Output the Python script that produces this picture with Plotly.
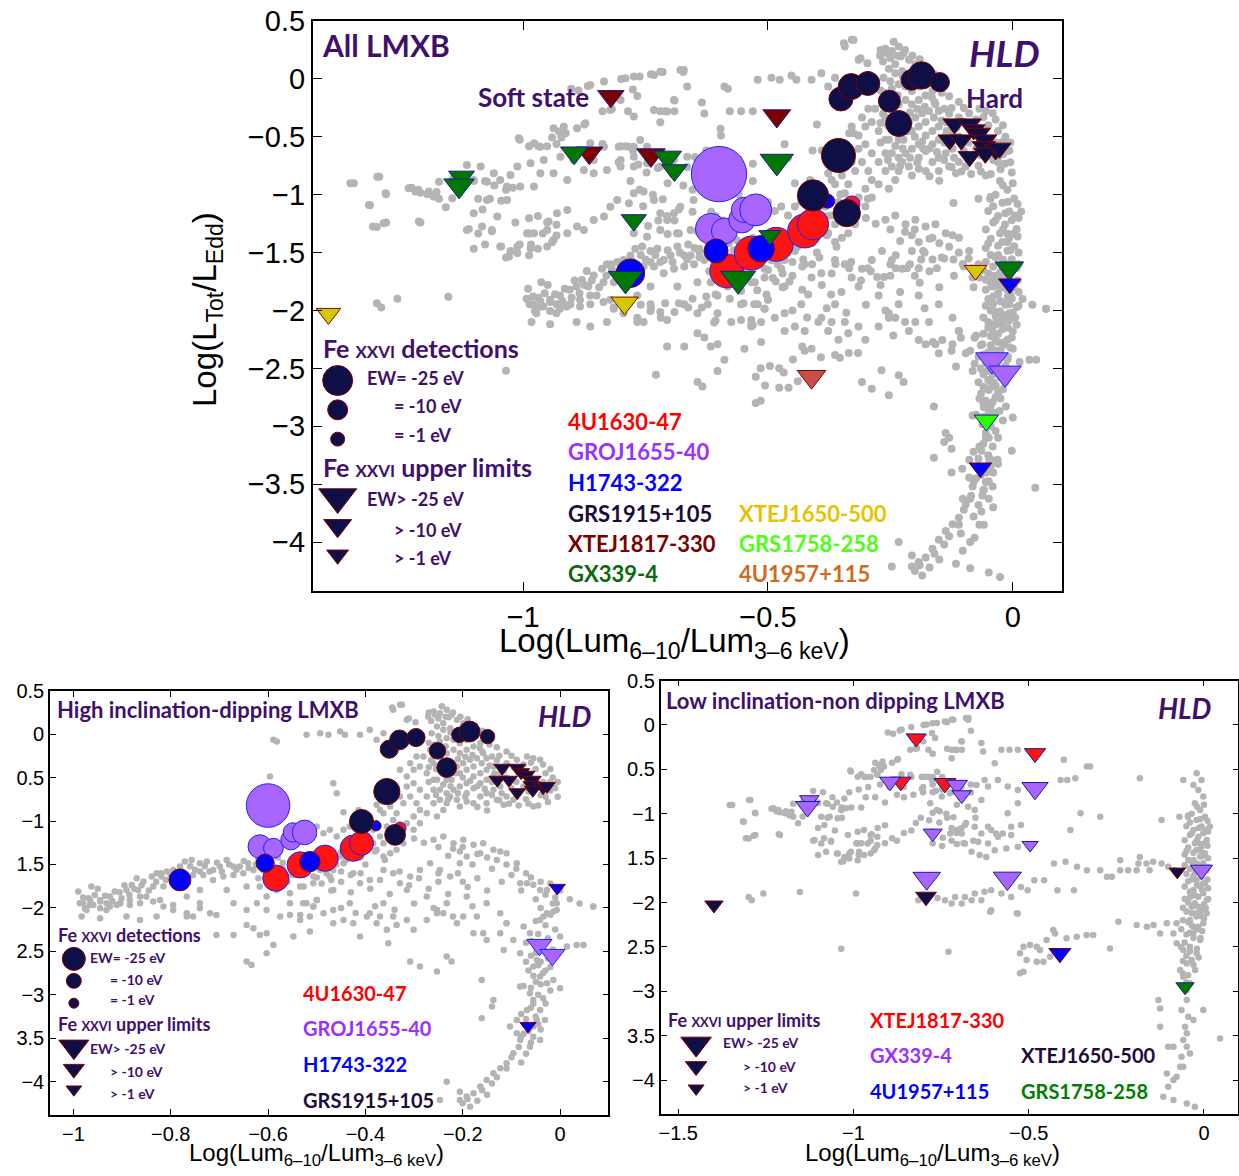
import plotly.graph_objects as go

W, H = 1239, 1176

# ---------------------------------------------------------------------------
# Background sample (grey): high-inclination / dipping sources
# (x = log(Lum 6-10 / Lum 3-6 keV), y = log(L_Tot / L_Edd))
# ---------------------------------------------------------------------------
HI_SOFT = [(-0.990,-1.812),(-0.987,-1.947),(-0.976,-2.004),(-0.969,-1.889),(-0.963,-1.755),(-0.956,-1.851),
    (-0.945,-1.908),(-0.945,-2.004),(-0.932,-2.023),(-0.925,-1.870),(-0.915,-1.812),(-0.911,-1.966),(-0.901,-1.889),
    (-0.891,-1.793),(-0.880,-1.736),(-0.870,-1.659),(-0.867,-1.793),(-0.856,-1.697),(-0.850,-1.870),(-0.839,-1.640),
    (-0.829,-1.601),(-0.819,-1.640),(-0.808,-1.582),(-0.795,-1.563),(-0.781,-1.524),(-0.771,-1.467),(-0.757,-1.448),
    (-0.740,-1.486),(-0.726,-1.467),(-0.713,-1.563),(-0.699,-1.524),(-0.685,-1.448),(-0.671,-1.524),(-0.658,-1.524),
    (-0.641,-1.486),(-0.973,-2.023),(-0.959,-1.966),(-0.932,-1.947),(-0.904,-1.947),(-0.884,-1.908),(-0.863,-1.870),
    (-0.836,-1.755),(-0.815,-1.755),(-0.795,-1.716),(-0.774,-1.678),(-0.754,-1.620),(-0.733,-1.620),(-0.713,-1.678),
    (-0.692,-1.640),(-0.671,-1.620),(-0.651,-1.601),(-0.630,-1.563),(-0.610,-1.563)]

HI_SOFT2 = [(-0.98,-1.88),(-0.965,-1.92),(-0.95,-1.78),(-0.935,-1.86),(-0.92,-1.92),(-0.905,-1.82),(-0.895,-1.74),
    (-0.885,-1.85),(-0.875,-1.78),(-0.86,-1.74),(-0.845,-1.80),(-0.83,-1.70),(-0.82,-1.60),(-0.81,-1.68),(-0.80,-1.62),
    (-0.79,-1.60),(-0.78,-1.56),(-0.77,-1.62),(-0.76,-1.52),(-0.75,-1.56),(-0.74,-1.58),(-0.73,-1.52),(-0.72,-1.58),
    (-0.705,-1.48),(-0.695,-1.58),(-0.68,-1.50),(-0.665,-1.56),(-0.65,-1.46),(-0.64,-1.54),(-0.625,-1.50),(-0.615,-1.44),
    (-0.60,-1.48),(-0.59,-1.54),(-0.58,-1.42),(-0.57,-1.48),(-0.55,-1.44),(-0.54,-1.56),(-0.53,-1.40),(-0.51,-1.45),
    (-0.49,-1.42),(-0.47,-1.38),(-0.45,-1.36),(-0.43,-1.30),(-0.42,-1.36),(-0.46,-1.44),(-0.48,-1.50)]

HI_SOFT_LOW = [(-0.983,-2.100),(-0.945,-2.119),(-0.891,-2.100),(-0.863,-2.138),(-0.829,-2.100),(-0.795,-2.023),
    (-0.767,-2.100),(-0.740,-2.004),(-0.706,-2.081),(-0.671,-1.947),(-0.644,-2.023),(-0.623,-1.947),(-0.603,-2.023),
    (-0.575,-2.100),(-0.534,-2.081),(-0.521,-1.947),(-0.500,-1.908),(-0.617,-1.755),(-0.582,-1.793),(-0.555,-1.831),
    (-0.527,-1.755),(-0.507,-1.716),(-0.685,-1.793),(-0.644,-1.755),(-0.603,-1.870),(-0.555,-1.947),(-0.767,-1.870),
    (-0.740,-1.793),(-0.822,-1.908),(-0.980,-1.946),(-0.966,-1.966),(-0.945,-1.927),(-0.925,-1.985),(-0.904,-1.946),
    (-0.884,-1.966),(-0.863,-1.946),(-0.836,-1.927),(-0.815,-1.985),(-0.795,-1.966),(-0.767,-2.062),(-0.754,-2.100),
    (-0.740,-1.946),(-0.719,-2.062),(-0.706,-2.311),(-0.671,-2.311),(-0.644,-2.196),(-0.630,-2.234),(-0.617,-2.311),
    (-0.603,-2.292),(-0.555,-2.081),(-0.534,-2.138),(-0.507,-1.985),(-0.514,-2.273),(-0.548,-2.330),(-0.603,-2.522),
    (-0.589,-2.426),(-0.644,-2.618),(-0.634,-2.656)]

HI_UNDER = [(-0.62,-1.45),(-0.60,-1.60),(-0.57,-1.55),(-0.55,-1.62),(-0.52,-1.58),(-0.50,-1.52),(-0.48,-1.60),
    (-0.46,-1.50),(-0.45,-1.58),(-0.44,-1.45),(-0.50,-1.65),(-0.56,-1.70),(-0.62,-1.66),(-0.47,-1.68),(-0.43,-1.62),
    (-0.40,-1.50),(-0.41,-1.42),(-0.38,-1.35),(-0.36,-1.45)]

HI_DIAG = [(-0.528,-1.102),(-0.514,-1.179),(-0.500,-1.063),(-0.486,-1.140),(-0.473,-1.102),(-0.521,-1.601),
    (-0.507,-1.639),(-0.493,-1.563),(-0.480,-1.524),(-0.466,-1.563),(-0.452,-1.409),(-0.438,-1.332),(-0.459,-1.179),
    (-0.445,-1.102),(-0.432,-1.063),(-0.418,-0.987),(-0.404,-1.063),(-0.391,-0.948),(-0.377,-1.025),(-0.363,-0.910),
    (-0.349,-0.833),(-0.336,-0.910),(-0.322,-0.795),(-0.308,-0.718),(-0.295,-0.795),(-0.288,-0.641),(-0.301,-0.564),
    (-0.315,-0.603),(-0.329,-0.718),(-0.343,-0.987),(-0.356,-1.063),(-0.370,-1.179),(-0.384,-1.255),(-0.397,-1.332),
    (-0.411,-1.409),(-0.425,-1.409),(-0.329,-0.411),(-0.315,-0.488),(-0.301,-0.411),(-0.288,-0.372),(-0.274,-0.449),
    (-0.281,-0.257),(-0.267,-0.181),(-0.295,-0.257),(-0.308,-0.334),(-0.370,-0.872),(-0.356,-0.718),(-0.343,-0.603),
    (-0.384,-1.102),(-0.397,-1.179),(-0.411,-1.217),(-0.260,-0.334),(-0.260,-0.526),(-0.247,-0.411),(-0.274,-0.718),
    (-0.288,-0.872),(-0.301,-0.948),(-0.315,-1.025),(-0.329,-1.102),(-0.343,-1.179),(-0.363,-1.255),(-0.377,-1.332),
    (-0.247,-0.641),(-0.233,-0.526),(-0.260,-0.795),(-0.274,-0.910),(-0.288,-1.025),(-0.301,-1.102),(-0.322,-1.255),
    (-0.336,-1.332),(-0.349,-1.371),(-0.363,-1.409),(-0.226,-0.718),(-0.240,-0.872),(-0.253,-0.948)]

HI_GRS = [(-0.271,0.203),(-0.260,0.261),(-0.247,0.241),(-0.233,0.280),(-0.223,0.222),(-0.212,0.165),(-0.199,0.126),
    (-0.240,0.126),(-0.253,0.088),(-0.264,0.011),(-0.226,0.069),(-0.212,0.011),(-0.185,0.050),(-0.171,-0.008),
    (-0.192,-0.066),(-0.206,-0.104),(-0.219,-0.066),(-0.233,-0.046),(-0.247,-0.085),(-0.260,-0.123),(-0.219,-0.181),
    (-0.233,-0.219),(-0.247,-0.257),(-0.206,-0.219),(-0.192,-0.181),(-0.178,-0.142),(-0.164,-0.104),(-0.158,-0.219),
    (-0.171,-0.277),(-0.185,-0.296),(-0.199,-0.334),(-0.212,-0.373),(-0.226,-0.411),(-0.240,-0.449),(-0.253,-0.526),
    (-0.223,-0.526),(-0.206,-0.449),(-0.192,-0.411),(-0.178,-0.372),(-0.161,-0.334),(-0.151,-0.277),(-0.140,-0.257),
    (-0.137,-0.372),(-0.151,-0.411),(-0.164,-0.449),(-0.178,-0.488),(-0.192,-0.564),(-0.206,-0.603),(-0.219,-0.641),
    (-0.233,-0.680),(-0.212,-0.756),(-0.192,-0.680),(-0.178,-0.622),(-0.164,-0.564),(-0.151,-0.526),(-0.137,-0.488),
    (-0.123,-0.449),(-0.123,-0.603),(-0.137,-0.641),(-0.151,-0.680),(-0.164,-0.718),(-0.178,-0.795),(-0.151,-0.795),
    (-0.130,-0.756),(-0.110,-0.718),(-0.116,-0.814),(-0.096,-0.756),(-0.089,-0.296),(-0.068,-0.257),(-0.055,-0.277),
    (-0.041,-0.296),(-0.055,-0.833),(-0.110,-0.334),(-0.260,-0.641),(-0.247,-0.756),(-0.233,-0.795),(-0.206,-0.833),
    (-0.192,-0.776),(-0.130,-0.300),(-0.100,-0.250),(-0.075,-0.350),(-0.050,-0.400),(-0.030,-0.450),(-0.015,-0.500),
    (-0.020,-0.650),(-0.040,-0.700),(-0.070,-0.750),(-0.100,-0.620),(-0.110,-0.500),(-0.090,-0.550),(-0.140,-0.550),
    (-0.120,-0.680),(-0.025,-0.780),(-0.005,-0.720),(-0.060,-0.500),(-0.080,-0.450),(-0.035,-0.550)]

HI_GRS2 = [(-0.265,0.15),(-0.25,0.18),(-0.235,0.20),(-0.22,0.25),(-0.205,0.20),(-0.19,0.17),(-0.24,0.05),
    (-0.225,0.02),(-0.20,0.08),(-0.185,-0.02),(-0.175,0.10),(-0.16,0.04),(-0.15,-0.05),(-0.165,-0.16),(-0.18,-0.24),
    (-0.195,-0.26),(-0.21,-0.29),(-0.225,-0.32),(-0.24,-0.36),(-0.255,-0.40),(-0.27,-0.38),(-0.265,-0.30),
    (-0.255,-0.20),(-0.27,-0.10),(-0.25,-0.02),(-0.235,-0.14),(-0.215,-0.45),(-0.20,-0.50),(-0.185,-0.54),
    (-0.17,-0.60),(-0.155,-0.63),(-0.14,-0.70),(-0.125,-0.76),(-0.105,-0.80),(-0.085,-0.82),(-0.065,-0.80),
    (-0.045,-0.82),(-0.03,-0.72),(-0.01,-0.62),(-0.005,-0.55),(-0.02,-0.40),(-0.035,-0.35),(-0.06,-0.33),
    (-0.095,-0.38),(-0.115,-0.42),(-0.135,-0.45),(-0.145,-0.36),(-0.125,-0.25),(-0.11,-0.20),(-0.13,-0.15),
    (-0.145,-0.12),(-0.16,-0.20),(-0.075,-0.60),(-0.09,-0.70),(-0.105,-0.56),(-0.05,-0.60),(-0.065,-0.66),
    (-0.02,-0.55),(-0.24,-0.58),(-0.225,-0.60),(-0.21,-0.68),(-0.195,-0.72),(-0.17,-0.84),(-0.15,-0.88),
    (-0.23,-0.75),(-0.255,-0.70),(-0.27,-0.55)]

HI_UPPER = [(-0.521,-0.008),(-0.493,0.011),(-0.476,-0.008),(-0.452,0.030),(-0.442,-0.008),(-0.411,-0.008),
    (-0.391,0.050),(-0.343,0.280),(-0.329,0.338),(-0.315,0.165),(-0.377,-0.065),(-0.363,0.011),(-0.466,-0.564),
    (-0.459,-0.680),(-0.397,-0.987),(-0.377,-0.814),(-0.414,-0.872),(-0.445,-0.900),(-0.589,-0.066),(-0.582,-0.085),
    (-0.596,-0.488),(-0.345,0.308),(-0.325,0.337),(-0.243,0.322),(-0.270,0.250),(-0.257,0.222),(-0.229,0.193),
    (-0.311,0.179),(-0.297,0.136)]

HI_RIGHT = [(-0.260,-1.217),(-0.240,-1.179),(-0.219,-1.255),(-0.199,-1.217),(-0.178,-1.274),(-0.158,-1.255),
    (-0.137,-1.332),(-0.123,-1.351),(-0.110,-1.371),(-0.089,-1.486),(-0.082,-1.716),(-0.068,-1.716),(-0.055,-1.735),
    (-0.041,-1.793),(-0.027,-1.793),(-0.007,-1.946),(0.068,-1.985),(-0.192,-1.409),(-0.164,-1.371),(-0.206,-1.351),
    (-0.300,-1.200),(-0.280,-1.250),(-0.250,-1.300),(-0.220,-1.320),(-0.200,-1.300),(-0.170,-1.380),(-0.150,-1.420),
    (-0.130,-1.450),(-0.110,-1.500),(-0.090,-1.550),(-0.070,-1.600),(-0.060,-1.650),(-0.040,-1.700),(-0.020,-1.720),
    (0.000,-1.800),(-0.010,-1.880),(0.020,-1.900),(0.040,-1.950),(-0.230,-1.400),(-0.180,-1.500),(-0.140,-1.550),
    (-0.100,-1.620),(-0.120,-1.700),(-0.080,-1.800),(-0.050,-1.900),(-0.150,-1.800),(-0.200,-1.700),(-0.250,-1.600)]

HI_MID = [(-0.473,-1.639),(-0.445,-1.486),(-0.425,-1.601),(-0.411,-1.716),(-0.391,-1.678),(-0.363,-1.563),
    (-0.343,-1.601),(-0.329,-1.716),(-0.308,-1.639),(-0.288,-1.563),(-0.267,-1.486),(-0.247,-1.563),(-0.226,-1.639),
    (-0.206,-1.486),(-0.315,-1.793),(-0.274,-1.870),(-0.253,-2.023),(-0.233,-1.946),(-0.192,-1.870),(-0.171,-2.100),
    (-0.151,-1.946),(-0.123,-2.062),(-0.110,-2.176),(-0.014,-2.042),(-0.034,-2.100),(-0.534,-1.755),(-0.500,-1.908),
    (-0.466,-1.793),(-0.432,-1.946),(-0.397,-2.100),(-0.363,-1.946),(-0.343,-2.100),(-0.466,-2.176),(-0.514,-2.100),
    (-0.377,-2.176),(-0.274,-2.138),(-0.212,-2.176),(-0.528,-1.946),(-0.507,-1.985),(-0.486,-2.062),(-0.466,-2.023),
    (-0.445,-2.138),(-0.425,-2.177),(-0.411,-2.330),(-0.391,-2.062),(-0.370,-2.100),(-0.356,-2.253),(-0.353,-2.407),
    (-0.336,-2.196),(-0.315,-2.138),(-0.301,-2.253),(-0.308,-2.618),(-0.288,-2.676),(-0.253,-2.062),(-0.240,-2.062),
    (-0.253,-2.733),(-0.233,-2.560),(-0.223,-2.618),(-0.199,-2.100),(-0.178,-2.292),(-0.161,-2.829),(-0.158,-2.292),
    (-0.151,-2.369),(-0.123,-2.292),(-0.116,-2.484),(-0.110,-2.177),(-0.096,-2.369),(-0.082,-2.906),(-0.075,-2.215),
    (-0.062,-2.292),(-0.048,-2.599),(-0.041,-2.138),(-0.027,-2.062),(-0.007,-2.023),(0.000,-2.330),(0.014,-2.445),
    (0.034,-2.426),(0.048,-2.426),(0.068,-1.985),(-0.161,-3.271)]

HI_MID2 = [(-0.49,-1.72),(-0.47,-1.80),(-0.45,-1.70),(-0.43,-1.82),(-0.41,-1.60),(-0.39,-1.78),(-0.37,-1.68),
    (-0.35,-1.84),(-0.33,-1.58),(-0.31,-1.74),(-0.29,-1.66),(-0.27,-1.78),(-0.25,-1.70),(-0.23,-1.84),(-0.21,-1.60),
    (-0.19,-1.76),(-0.17,-1.66),(-0.45,-2.00),(-0.42,-2.06),(-0.38,-1.98),(-0.34,-2.02),(-0.30,-1.95),(-0.26,-2.00),
    (-0.22,-2.10),(-0.18,-1.98)]

HI_HARD = [(-0.137,-3.059),(-0.140,-3.136),(-0.082,-2.522),(-0.055,-2.676),(-0.041,-2.791),(-0.027,-2.867),
    (-0.014,-2.829),(0.000,-2.925),(-0.062,-2.983),(-0.055,-3.059),(-0.068,-3.175),(-0.041,-3.175),(-0.048,-3.290),
    (-0.089,-3.290),(-0.103,-3.366),(-0.055,-3.482),(-0.041,-3.520),(-0.082,-3.520),(-0.096,-3.673),(-0.110,-3.789),
    (-0.123,-3.846),(-0.137,-3.904),(-0.151,-3.981),(-0.164,-4.057),(-0.178,-4.134),(-0.192,-4.172),(-0.206,-4.211),
    (-0.185,-4.288),(-0.233,-4.000),(-0.247,-4.211),(-0.206,-4.115),(-0.055,-3.366),(-0.089,-3.443),(-0.062,-3.597),
    (-0.031,-3.290),(-0.070,-2.400),(-0.050,-2.450),(-0.030,-2.500),(-0.060,-2.550),(-0.040,-2.620),(-0.020,-2.680),
    (-0.065,-2.720),(-0.035,-2.750),(-0.050,-2.850),(-0.075,-2.900),(-0.020,-2.950),(-0.045,-3.000),(-0.030,-3.100),
    (-0.060,-3.150),(-0.080,-3.220),(-0.050,-3.250),(-0.070,-3.350),(-0.040,-3.400),(-0.075,-3.450),(-0.060,-3.550),
    (-0.085,-3.600),(-0.070,-3.680),(-0.100,-3.720),(-0.080,-3.780),(-0.110,-3.850),(-0.130,-3.950),(-0.140,-4.020),
    (-0.160,-4.100),(-0.190,-4.200),(-0.170,-4.220),(-0.200,-4.250),(-0.150,-4.150)]

HI_HARD2 = [(-0.03,-1.85),(-0.015,-1.95),(-0.04,-2.00),(-0.02,-2.08),(-0.05,-2.15),(-0.03,-2.20),(-0.01,-2.25),
    (-0.045,-2.30),(-0.025,-2.35),(-0.06,-2.38),(-0.035,-2.42),(-0.015,-2.48),(-0.05,-2.52),(-0.025,-2.58),
    (-0.07,-2.62),(-0.045,-2.66),(-0.03,-2.72),(-0.055,-2.78),(-0.04,-2.88),(-0.06,-2.92),(-0.035,-3.04),
    (-0.055,-3.10),(-0.07,-3.28),(-0.045,-3.34),(-0.065,-3.42),(-0.08,-3.48)]

# ---------------------------------------------------------------------------
# Background sample (grey): low-inclination / non-dipping sources
# ---------------------------------------------------------------------------
LO_SOFT_A = [(-1.353,-0.901),(-1.315,-1.088),(-1.307,-1.275),(-1.285,-1.247),(-1.298,-0.844),(-1.281,-0.988),
    (-1.234,-0.944),(-1.220,-0.973),(-1.210,-0.982),(-1.193,-0.973),(-1.183,-1.016),(-1.172,-0.887),(-1.145,-1.031),
    (-1.115,-0.743),(-1.087,-0.757),(-1.101,-0.872),(-1.074,-0.887),(-1.047,-0.872),(-1.026,-0.829),(-1.009,-0.513),
    (-0.978,-0.556),(-0.965,-0.585),(-0.938,-0.426),(-0.927,-0.455),(-0.917,-0.412),(-0.890,-0.426),(-0.873,-0.383),
    (-0.863,-0.556),(-0.835,-0.585),(-0.805,-0.585),(-0.784,-0.585),(-1.213,-1.232),(-1.115,-1.304),(-1.101,-1.160),
    (-1.084,-1.275),(-1.064,-1.304),(-1.047,-1.448),(-1.029,-1.534),(-1.012,-1.448),(-0.985,-1.462),(-0.978,-1.333),
    (-0.951,-1.304),(-0.948,-1.232),(-0.938,-1.391),(-0.931,-1.160),(-0.910,-1.131),(-0.890,-1.275),(-0.876,-1.304),
    (-0.856,-1.218),(-0.835,-1.189),(-0.822,-1.103),(-0.808,-1.045),(-0.784,-1.074),(-0.774,-0.988),(-0.754,-0.973),
    (-0.733,-1.045),(-0.720,-1.160),(-0.706,-1.218),(-0.692,-1.160),(-0.679,-1.103),(-0.652,-1.045),(-0.774,-1.333),
    (-0.747,-1.362),(-0.720,-1.304),(-0.686,-1.333),(-0.658,-1.304),(-0.910,-1.333),(-0.951,-1.448),(-0.992,-1.333),
    (-1.053,-1.189),(-1.074,-1.045),(-1.033,-1.045),(-1.006,-0.930),(-0.978,-0.930),(-0.965,-0.815),(-0.938,-0.815),
    (-0.910,-0.872),(-0.876,-0.786),(-0.856,-0.815),(-0.829,-0.786),(-0.801,-0.757),(-0.774,-0.757),(-0.747,-0.728),
    (-0.720,-0.757),(-0.692,-0.700),(-0.665,-0.671),(-0.774,-0.671),(-0.801,-0.700),(-0.856,-0.700),(-0.897,-0.700),
    (-0.924,-0.671),(-0.958,-0.700),(-0.985,-0.728),(-1.012,-0.757),(-1.033,-0.930),(-1.060,-0.815),(-0.822,-0.268),
    (-0.801,-0.182),(-0.774,-0.325),(-0.733,-0.268),(-0.706,-0.282),(-0.692,-0.182),(-0.665,-0.066),(-0.791,0.006),
    (-0.774,0.020),(-0.733,0.034),(-0.720,0.063),(-0.679,0.078),(-0.672,0.078),(-0.835,-0.023),(-0.863,-0.052),
    (-0.774,-0.585),(-0.761,-0.527),(-0.747,-0.585)]

LO_SOFT_B = [(-1.346,-0.901),(-1.294,-0.845),(-1.313,-1.090),(-1.280,-0.995),(-1.299,-1.278),(-1.280,-1.240),
    (-1.228,-0.939),(-1.214,-0.958),(-1.196,-0.995),(-1.177,-0.977),(-1.210,-1.240),(-1.172,-1.034),(-1.144,-0.864),
    (-1.158,-1.108),(-1.101,-0.882),(-1.078,-0.882),(-1.059,-0.920),(-1.035,-0.958),(-1.021,-0.939),(-1.092,-1.034),
    (-1.068,-1.034),(-1.045,-1.052),(-1.083,-1.127),(-1.111,-1.297),(-1.092,-1.334),(-1.064,-1.316),(-1.078,-1.429),
    (-1.101,-1.466),(-1.045,-1.447),(-1.026,-1.486),(-1.007,-1.429),(-0.984,-1.429),(-1.035,-1.542),(-1.012,-1.504),
    (-0.988,-1.523),(-0.970,-1.466),(-0.941,-1.410),(-0.932,-1.353),(-0.960,-1.334),(-0.988,-1.334),(-1.016,-1.240),
    (-0.988,-1.203),(-0.951,-1.240),(-0.932,-1.260),(-0.970,-1.184),(-1.007,-0.525),(-0.988,-0.582),(-0.969,-0.582),
    (-0.951,-0.582),(-0.932,-0.562),(-0.941,-0.506),(-0.922,-0.506),(-0.913,-0.469),(-0.838,-0.562),(-0.800,-0.582),
    (-0.875,-0.393),(-0.838,-0.280),(-0.819,-0.260),(-0.902,-0.084),(-0.887,-0.099),(-0.868,-0.062),(-0.800,0.000)]

LO_SOFT_C = [(-0.790,-0.582),(-0.776,-0.619),(-0.781,-0.882),(-0.762,-0.958),(-0.748,-0.807),(-0.673,-0.920),
    (-0.654,-0.958),(-0.635,-0.845),(-0.649,-0.675),(-0.626,-0.619),(-0.616,-0.694),(-0.588,-0.619),(-0.560,-0.694),
    (-0.531,-0.732),(-0.597,-0.430),(-0.578,-0.280),(-0.555,-0.280),(-0.531,-0.280),(-0.635,-0.204),(-0.630,-0.299),
    (-0.691,-0.186),(-0.720,-0.280),(-0.710,-0.280),(-0.691,-0.280),(-0.720,-0.374),(-0.776,-0.091),(-0.767,-0.148),
    (-0.786,-0.280),(-0.762,0.022),(-0.739,0.040),(-0.715,0.060),(-0.673,0.060),(-0.531,-0.882),(-0.560,-0.995),
    (-0.550,-1.147),(-0.522,-1.127),(-0.574,-1.222),(-0.550,-1.240),(-0.593,-1.222),(-0.607,-1.184),(-0.588,-1.260),
    (-0.531,-1.373),(-0.564,-1.391),(-0.597,-1.410),(-0.616,-1.334),(-0.682,-1.127),(-0.654,-1.147),(-0.635,-1.222),
    (-0.616,-1.147),(-0.644,-1.316),(-0.682,-1.334),(-0.663,-1.429),(-0.640,-1.466),(-0.621,-1.486),(-0.706,-1.184),
    (-0.724,-1.222),(-0.691,-1.222),(-0.745,-0.700),(-0.725,-0.770),(-0.705,-0.900),(-0.735,-1.000),(-0.755,-1.100),
    (-0.715,-1.040),(-0.695,-0.820),(-0.665,-0.760),(-0.775,-1.200),(-0.745,-1.270),(-0.705,-1.340),(-0.765,-0.740),
    (-0.805,-0.720),(-0.409,-0.619),(-0.390,-0.619),(-0.367,-0.600),(-0.400,-0.393),(-0.334,-0.469),(-0.325,-0.469),
    (-0.183,-0.600),(-0.296,-1.034),(-0.352,-0.995),(-0.381,-1.184),(-0.121,-1.071),(-0.070,-1.034),(-0.046,-1.034)]

LO_LOWER = [(-0.710,-1.937),(-0.682,-1.937),(-0.654,-1.899),(-0.626,-1.880),(-0.607,-1.862),(-0.578,-1.899),
    (-0.550,-1.937),(-0.522,-1.824),(-0.503,-1.862),(-0.739,-1.975),(-0.720,-2.012),(-0.691,-2.012),(-0.663,-1.975),
    (-0.635,-1.975),(-0.607,-2.088),(-0.531,-2.125),(-0.760,-1.950),(-0.815,-1.975),(-0.484,-1.749),(-0.456,-1.749),
    (-0.418,-1.862),(-0.371,-1.862),(-0.428,-1.560),(-0.395,-1.542),(-0.362,-1.598),(-0.334,-1.636),(-0.296,-1.636),
    (-0.263,-1.711),(-0.239,-1.636),(-0.216,-1.636),(-0.187,-1.560),(-0.164,-1.560),(-0.145,-1.542),(-0.121,-1.560),
    (-0.102,-1.598),(-0.084,-1.636),(-0.192,-1.636),(-0.155,-1.636),(-0.183,-1.486),(-0.239,-1.523),(-0.277,-1.711),
    (-1.299,-1.937),(-1.290,-1.975),(-1.257,-1.899),(-1.153,-1.881),(-0.993,-1.899),(-1.035,-2.520),
    (-0.244,-2.216),(-0.192,-2.254),(-0.163,-2.272),(-0.144,-2.254),(-0.106,-2.235),(-0.078,-2.235),(-0.087,-2.348),
    (-0.078,-2.460),(-0.059,-2.535),(-0.125,-2.348),(-0.515,-2.498),(-0.496,-2.479),(-0.477,-2.498),(-0.449,-2.423),
    (-0.430,-2.310),(-0.425,-2.348),(-0.392,-2.404),(-0.363,-2.385),(-0.335,-2.366),(-0.316,-2.366),(-0.525,-2.573),
    (-0.506,-2.648),(-0.477,-2.667),(-0.458,-2.667),(-0.439,-2.610),(-0.468,-2.535),(-0.515,-2.780),(-0.525,-2.798),
    (-0.268,-2.517),(-0.729,-2.554),(-0.610,-2.103),(-0.534,-2.122)]

LO_HARD = [(-0.035,-2.047),(-0.021,-2.122),(-0.040,-2.197),(-0.016,-2.272),(-0.030,-2.348),(-0.011,-2.423),
    (-0.040,-2.498),(-0.021,-2.573),(-0.035,-2.648),(-0.049,-2.686),(-0.068,-2.761),(-0.059,-2.836),(-0.040,-2.911),
    (-0.049,-2.986),(-0.049,-3.099),(-0.064,-3.211),(-0.045,-3.287),(-0.030,-3.324),(-0.054,-3.399),(-0.049,-3.474),
    (-0.059,-3.549),(-0.049,-3.625),(-0.040,-3.700),(-0.064,-3.737),(-0.059,-3.850),(-0.068,-3.850),(-0.078,-3.963),
    (-0.106,-3.925),(-0.087,-4.000),(-0.102,-4.075),(-0.116,-4.188),(-0.087,-4.226),(-0.049,-4.263),(-0.026,-4.301),
    (-0.130,-3.099),(-0.125,-3.193),(-0.125,-3.399),(-0.102,-3.625),(-0.087,-3.625),(-0.002,-3.211),(0.046,-3.531),
    (-0.021,-0.544),(-0.007,-0.619),(-0.030,-0.676),(-0.016,-0.732),(-0.002,-0.807),(-0.026,-0.882),(-0.011,-0.957),
    (0.003,-1.033),(-0.021,-1.070),(-0.007,-1.145),(-0.030,-1.183),(-0.002,-1.220),(-0.016,-1.258),(0.008,-1.296),
    (-0.026,-1.333),(-0.007,-1.371),(-0.021,-1.408),(0.003,-1.446),(-0.011,-1.483),(-0.030,-1.521),(-0.002,-1.558),
    (-0.016,-1.596),(0.008,-1.634),(-0.026,-1.671),(-0.007,-1.709),(-0.021,-1.746),(0.003,-1.784),(-0.011,-1.821),
    (-0.030,-1.859),(-0.002,-1.896),(-0.016,-1.934),(0.008,-1.972),(-0.026,-2.009),(-0.007,-2.084),(-0.021,-2.159),
    (-0.002,-2.234),(-0.030,-2.272),(0.017,-1.145),(-0.059,-0.619),(0.003,-1.333),(-0.011,-1.408),(-0.021,-1.634),
    (-0.002,-1.784),(-0.016,-2.047),(0.008,-2.122)]

LO_HARD2 = [(0.000,-0.90),(-0.020,-0.92),(-0.035,-1.00),(0.010,-1.08),(-0.040,-1.10),(-0.015,-1.16),(0.012,-1.20),
    (-0.040,-1.24),(-0.020,-1.30),(0.010,-1.36),(-0.045,-1.38),(-0.030,-1.44),(0.012,-1.50),(-0.045,-1.52),
    (-0.020,-1.56),(0.012,-1.60),(-0.040,-1.62),(-0.030,-1.70),(0.010,-1.74),(-0.045,-1.76),(-0.020,-1.80),
    (0.012,-1.84),(-0.040,-1.88),(-0.025,-1.92),(0.012,-1.96),(-0.045,-2.00),(-0.030,-2.04),(0.005,-2.06),
    (-0.050,-2.10),(-0.010,-2.15),(-0.045,-2.22),(-0.020,-2.30),(-0.050,-2.36),(-0.030,-2.40),(-0.055,-2.45),
    (-0.020,-2.52),(-0.050,-2.60),(-0.030,-2.70),(-0.060,-2.80),(-0.050,-2.90)]

LO_HARD3 = [(-0.045,-1.02),(-0.010,-1.06),(-0.050,-1.14),(0.005,-1.18),(-0.035,-1.22),(-0.055,-1.30),(-0.010,-1.34),
    (-0.050,-1.42),(-0.005,-1.48),(-0.055,-1.46),(-0.035,-1.54),(-0.055,-1.58),(-0.010,-1.66),(-0.050,-1.68),
    (-0.035,-1.74),(-0.055,-1.82),(-0.005,-1.86),(-0.040,-1.94),(-0.055,-1.96),(0.000,-2.02),(-0.060,-2.06),
    (-0.035,-2.12),(0.000,-2.18),(-0.060,-2.20),(-0.035,-2.26),(-0.005,-2.32),(-0.065,-2.30),(-0.040,-2.34),
    (-0.010,-2.40),(-0.065,-2.50),(-0.040,-2.55),(-0.015,-2.62),(-0.060,-2.66),(-0.025,-2.76),(-0.045,-2.82)]

HI_GREY = (HI_SOFT + HI_SOFT2 + HI_SOFT_LOW + HI_UNDER + HI_DIAG + HI_GRS + HI_GRS2 + HI_UPPER + HI_RIGHT
           + HI_MID + HI_MID2 + HI_HARD + HI_HARD2)
LO_GREY = LO_SOFT_A + LO_SOFT_B + LO_SOFT_C + LO_LOWER + LO_HARD + LO_HARD2 + LO_HARD3

# ---------------------------------------------------------------------------
# Fe XXVI detections: (x, y, |EW| in eV)
# ---------------------------------------------------------------------------
GROJ1655_DET = [(-0.600,-0.822,63),(-0.617,-1.294,26),(-0.589,-1.313,19),(-0.553,-1.215,20),
                (-0.549,-1.131,18),(-0.525,-1.131,28)]
U4U1630_DET = [(-0.584,-1.658,31),(-0.534,-1.505,31),(-0.483,-1.428,31),(-0.425,-1.313,31),
               (-0.408,-1.255,27),(-0.329,-1.082,5)]
H1743_DET = [(-0.606,-1.485,16),(-0.514,-1.467,20),(-0.781,-1.678,23),(-0.378,-1.056,1)]
GRS1915_DET = [(-0.408,-1.006,27),(-0.339,-1.159,21),(-0.356,-0.661,31),(-0.351,-0.173,16),(-0.330,-0.066,19),
               (-0.296,-0.039,16),(-0.252,-0.192,13),(-0.233,-0.385,19),(-0.207,-0.008,11),(-0.186,0.030,21),
               (-0.149,-0.028,9)]

# Fe XXVI upper limits: (x, y, |EW| limit in eV)
GRS1915_UL = [(-0.119,-0.389,3),(-0.088,-0.389,3),(-0.080,-0.440,3),(-0.129,-0.527,3),(-0.105,-0.527,3),
              (-0.069,-0.469,3),(-0.056,-0.527,3),(-0.059,-0.585,3),(-0.035,-0.613,3),(-0.088,-0.671,3),
              (-0.056,-0.642,3),(-0.027,-0.598,3)]
H1743_UL = [(-0.006,-1.770,2),(-0.066,-3.359,2)]
GROJ1655_UL = [(-0.0425,-2.426,17),(-0.0158,-2.541,17)]
XTEJ1817_UL = [(-0.821,-0.150,8),(-0.865,-0.639,9),(-0.482,-0.319,10),(-0.739,-0.657,11)]
GX339_UL = [(-1.126,-0.845,7),(-1.131,-0.921,14),(-0.896,-0.639,9),(-0.774,-1.220,6),(-0.791,-1.727,20),
            (-0.705,-0.676,10),(-0.691,-0.789,7),(-0.482,-0.713,18),(-0.496,-1.352,1.5),(-0.561,-1.727,21),
            (-0.007,-1.634,11)]
XTEJ1650_UL = [(-0.793,-1.935,9),(-1.398,-2.028,5),(-0.076,-1.653,2)]
GRS1758_UL = [(-0.054,-2.949,5)]
U4U1957_UL = [(-0.411,-2.572,11)]

LEGEND_EW = [25, 10, 1]

TICKS_Y = [0.5, 0, -0.5, -1, -1.5, -2, -2.5, -3, -3.5, -4]
TICKTEXT_Y_SMALL = ['0.5', '0', '0.5', '\u22121', '1.5', '\u22122', '2.5', '\u22123', '3.5', '\u22124']

# ---------------------------------------------------------------------------
# styling
# ---------------------------------------------------------------------------
GREY = '#b4b4b4'
NAVY = '#0f0f47'
DKRED = '#7d0000'
RED = '#ff1414'
VIOLET = '#a866ff'
BLUE = '#0000ff'
EDGE_B = '#2020ff'
EDGE_N = '#1a1a96'
GREEN = '#007800'
TXT = '#40106e'
AX_FONT = 'Liberation Sans, Arial, sans-serif'
LB_FONT = 'Lato, Open Sans, sans-serif'


def top_circle(ew):
    return 13.3 + 0.667 * ew


def top_tri(ew):
    return 18.4 + 0.583 * ew


def bl_circle(ew):
    return 9.5 + 0.54 * ew


def bl_tri(ew):
    return 13.1 + 0.517 * ew


def br_tri(ew):
    return 13.3 + 0.53 * ew


fig = go.Figure()


def grey(pts, xa, ya, size):
    fig.add_trace(go.Scatter(x=[p[0] for p in pts], y=[p[1] for p in pts], mode='markers',
                             marker=dict(size=size, color=GREY, line=dict(width=0)),
                             xaxis=xa, yaxis=ya, hoverinfo='skip', showlegend=False))


def marks(rows, xa, ya, symbol, fill, edge, size_fn):
    fig.add_trace(go.Scatter(x=[r[0] for r in rows], y=[r[1] for r in rows], mode='markers',
                             marker=dict(symbol=symbol, size=[size_fn(r[2]) for r in rows], color=fill,
                                         line=dict(color=edge, width=1), opacity=1),
                             xaxis=xa, yaxis=ya, hoverinfo='skip', showlegend=False))


# ---- top panel: all LMXB
grey(HI_GREY + LO_GREY, 'x', 'y', 8)
marks(GROJ1655_DET, 'x', 'y', 'circle', VIOLET, EDGE_B, top_circle)
marks(U4U1630_DET, 'x', 'y', 'circle', RED, EDGE_B, top_circle)
marks(H1743_DET, 'x', 'y', 'circle', BLUE, DKRED, top_circle)
marks(GRS1915_DET, 'x', 'y', 'circle', NAVY, DKRED, top_circle)
marks(XTEJ1650_UL, 'x', 'y', 'triangle-down', '#d0ca00', '#8b0000', top_tri)
marks(XTEJ1817_UL, 'x', 'y', 'triangle-down', DKRED, EDGE_N, top_tri)
marks(U4U1957_UL, 'x', 'y', 'triangle-down', '#c84e4a', '#8b0000', top_tri)
marks(GRS1758_UL, 'x', 'y', 'triangle-down', '#2cff00', EDGE_N, top_tri)
marks(GX339_UL, 'x', 'y', 'triangle-down', GREEN, EDGE_N, top_tri)
marks(GROJ1655_UL, 'x', 'y', 'triangle-down', VIOLET, EDGE_B, top_tri)
marks(H1743_UL, 'x', 'y', 'triangle-down', BLUE, DKRED, top_tri)
marks(GRS1915_UL, 'x', 'y', 'triangle-down', NAVY, DKRED, top_tri)

# ---- bottom-left: high inclination, dipping
grey(HI_GREY, 'x2', 'y2', 6.5)
marks(GROJ1655_DET, 'x2', 'y2', 'circle', VIOLET, EDGE_B, bl_circle)
marks(U4U1630_DET, 'x2', 'y2', 'circle', RED, EDGE_B, bl_circle)
marks(H1743_DET, 'x2', 'y2', 'circle', BLUE, DKRED, bl_circle)
marks(GRS1915_DET, 'x2', 'y2', 'circle', NAVY, DKRED, bl_circle)
marks(GROJ1655_UL, 'x2', 'y2', 'triangle-down', VIOLET, EDGE_B, bl_tri)
marks(H1743_UL, 'x2', 'y2', 'triangle-down', BLUE, DKRED, bl_tri)
marks(GRS1915_UL, 'x2', 'y2', 'triangle-down', NAVY, DKRED, bl_tri)

# ---- bottom-right: low inclination, non dipping
grey(LO_GREY, 'x3', 'y3', 6.5)
marks(XTEJ1817_UL, 'x3', 'y3', 'triangle-down', RED, EDGE_N, br_tri)
marks(GX339_UL, 'x3', 'y3', 'triangle-down', VIOLET, EDGE_N, br_tri)
marks(U4U1957_UL, 'x3', 'y3', 'triangle-down', BLUE, DKRED, br_tri)
marks(XTEJ1650_UL, 'x3', 'y3', 'triangle-down', NAVY, DKRED, br_tri)
marks(GRS1758_UL, 'x3', 'y3', 'triangle-down', GREEN, EDGE_N, br_tri)

# ---- in-panel size keys (EW = -25, -10, -1 eV)
KEYS = [
    ('x', 'y', -1.379, [-2.605, -2.858, -3.111], [-3.611, -3.858, -4.110], top_circle, top_tri),
    ('x2', 'y2', -0.999, [-2.587, -2.840, -3.097], [-3.597, -3.854, -4.089], bl_circle, bl_tri),
    ('x3', 'y3', -1.449, None, [-3.592, -3.845, -4.095], None, br_tri),
]
for xa, ya, kx, cy, ty, cfn, tfn in KEYS:
    if cy is not None:
        marks([(kx, yy, ew) for yy, ew in zip(cy, LEGEND_EW)], xa, ya, 'circle', NAVY, DKRED, cfn)
    marks([(kx, yy, ew) for yy, ew in zip(ty, LEGEND_EW)], xa, ya, 'triangle-down', NAVY, DKRED, tfn)


# ---------------------------------------------------------------------------
# axes
# ---------------------------------------------------------------------------
def axis(domain, rng, tickvals, size, ticklen, anchor, ticktext=None):
    d = dict(domain=domain, range=rng, anchor=anchor, tickmode='array', tickvals=tickvals,
             showline=True, linecolor='black', linewidth=1.6, mirror='ticks', ticks='inside',
             ticklen=ticklen, tickwidth=1, tickcolor='black', showgrid=False, zeroline=False,
             automargin=False, tickfont=dict(family=AX_FONT, size=size, color='black'), fixedrange=True)
    if ticktext is not None:
        d['ticktext'] = ticktext
    return d


def pxx(px):
    return px / W


def pxy(py):
    return 1 - py / H


fig.update_layout(
    width=W, height=H, autosize=False, margin=dict(l=0, r=0, t=0, b=0, pad=0),
    paper_bgcolor='white', plot_bgcolor='white', showlegend=False,
    xaxis=axis([pxx(312.7), pxx(1061.7)], [-1.43, 0.10], [-1, -0.5, 0], 29, 9, 'y'),
    yaxis=axis([pxy(590.7), pxy(20.7)], [-4.42, 0.503], TICKS_Y, 29, 9, 'x'),
    xaxis2=axis([pxx(50), pxx(608.3)], [-1.048, 0.099], [-1, -0.8, -0.6, -0.4, -0.2, 0], 20, 6, 'y2'),
    yaxis2=axis([pxy(1115), pxy(690.7)], [-4.384, 0.5], TICKS_Y, 20, 6, 'x2', TICKTEXT_Y_SMALL),
    xaxis3=axis([pxx(660.7), pxx(1238.3)], [-1.55, 0.098], [-1.5, -1, -0.5, 0], 20, 6, 'y3'),
    yaxis3=axis([pxy(1114.3), pxy(680.6)], [-4.386, 0.5], TICKS_Y, 20, 6, 'x3', TICKTEXT_Y_SMALL),
)

# ---------------------------------------------------------------------------
# text
# ---------------------------------------------------------------------------
ann = []


def note(px, py, text, size, color=TXT, xanchor='left', family=LB_FONT, angle=0):
    ann.append(dict(x=pxx(px), y=pxy(py), xref='paper', yref='paper', text=text, showarrow=False,
                    xanchor=xanchor, yanchor='middle', textangle=angle,
                    font=dict(family=family, size=size, color=color)))


def fe_head(words, small):
    return "<b>Fe <span style='font-size:%dpx'>XXVI</span> %s</b>" % (small, words)


# top panel
note(320, 45, '<b>All LMXB</b>', 30)
note(1042, 53, '<b><i>HLD</i></b>', 37, xanchor='right')
note(476, 97, '<b>Soft state</b>', 26)
note(964, 98, '<b>Hard</b>', 26)
note(321, 348, fe_head('detections', 17), 25)
note(365, 378, '<b>EW= -25 eV</b>', 18)
note(392, 406, '<b>= -10 eV</b>', 18)
note(392, 435, '<b>= -1 eV</b>', 18)
note(321, 467, fe_head('upper limits', 17), 25)
note(365, 499, '<b>EW> -25 eV</b>', 18)
note(392, 530, '<b>> -10 eV</b>', 18)
note(392, 558, '<b>> -1 eV</b>', 18)
for py, name, col in [(421, '4U1630-47', '#ff0000'), (451, 'GROJ1655-40', '#9b30ff'),
                      (482, 'H1743-322', '#0000ff'), (513, 'GRS1915+105', '#1c0c3c'),
                      (543, 'XTEJ1817-330', '#7d0000'), (573, 'GX339-4', '#0a6a0a')]:
    note(566, py, '<b>%s</b>' % name, 22, color=col)
for py, name, col in [(513, 'XTEJ1650-500', '#e6c200'), (543, 'GRS1758-258', '#4cff14'),
                      (573, '4U1957+115', '#d2691e')]:
    note(737, py, '<b>%s</b>' % name, 22, color=col)
note(497, 643, 'Log(Lum<sub>6\u201310</sub>/Lum<sub>3\u20136 keV</sub>)', 33, color='black', family=AX_FONT)
note(207, 310, 'Log(L<sub>Tot</sub>/L<sub>Edd</sub>)', 33, color='black', family=AX_FONT,
     xanchor='center', angle=-90)

# bottom-left panel
note(55, 710, '<b>High inclination-dipping LMXB</b>', 22)
note(594, 716, '<b><i>HLD</i></b>', 28, xanchor='right')
note(56, 935, fe_head('detections', 13), 18)
note(88, 957, '<b>EW= -25 eV</b>', 14)
note(108, 979, '<b>= -10 eV</b>', 14)
note(108, 1000, '<b>= -1 eV</b>', 14)
note(56, 1024, fe_head('upper limits', 13), 18)
note(88, 1048, '<b>EW> -25 eV</b>', 14)
note(108, 1071, '<b>> -10 eV</b>', 14)
note(108, 1093, '<b>> -1 eV</b>', 14)
for py, name, col in [(993, '4U1630-47', '#ff0000'), (1028, 'GROJ1655-40', '#9b30ff'),
                      (1064, 'H1743-322', '#0000ff'), (1100, 'GRS1915+105', '#1c0c3c')]:
    note(301, py, '<b>%s</b>' % name, 20, color=col)
note(187, 1154, 'Log(Lum<sub>6\u201310</sub>/Lum<sub>3\u20136 keV</sub>)', 24, color='black', family=AX_FONT)

# bottom-right panel
note(664, 700, '<b>Low inclination-non dipping LMXB</b>', 22)
note(1214, 708, '<b><i>HLD</i></b>', 28, xanchor='right')
note(666, 1020, fe_head('upper limits', 13), 18)
note(721, 1042, '<b>EW> -25 eV</b>', 14)
note(741, 1066, '<b>> -10 eV</b>', 14)
note(741, 1087, '<b>> -1 eV</b>', 14)
for px, py, name, col in [(868, 1020, 'XTEJ1817-330', '#ff0000'), (868, 1055, 'GX339-4', '#9b30ff'),
                          (868, 1091, '4U1957+115', '#0000ff'), (1019, 1055, 'XTEJ1650-500', '#1c0c3c'),
                          (1019, 1091, 'GRS1758-258', '#008000')]:
    note(px, py, '<b>%s</b>' % name, 20, color=col)
note(803, 1154, 'Log(Lum<sub>6\u201310</sub>/Lum<sub>3\u20136 keV</sub>)', 24, color='black', family=AX_FONT)

fig.update_layout(annotations=ann)
fig.write_html('out.html')
